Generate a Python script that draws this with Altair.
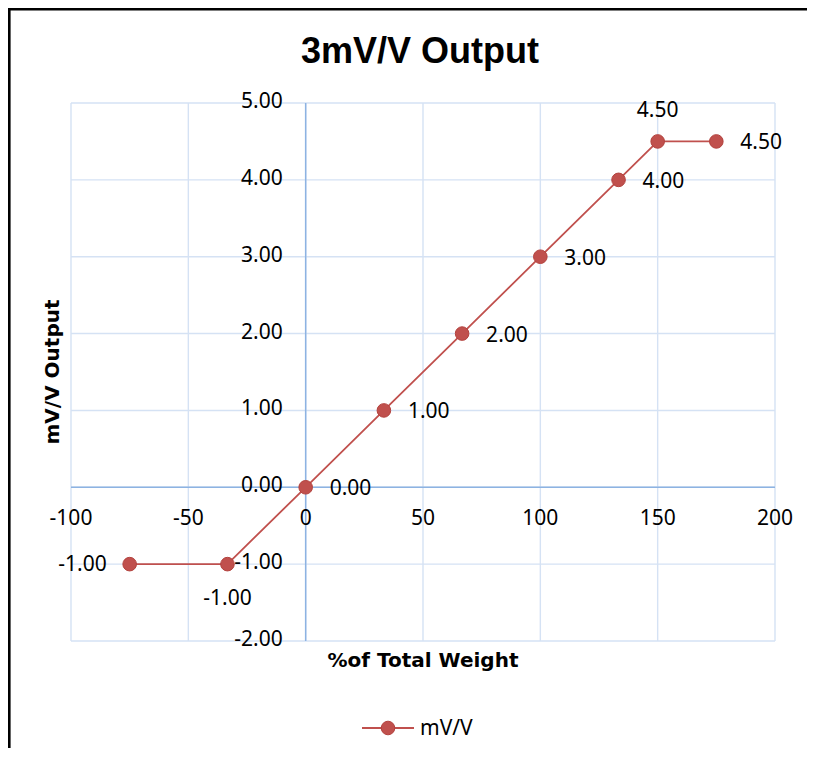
import altair as alt
import pandas as pd

# ---- data ----
pct_weight = [-75, -33.33, 0, 33.33, 66.67, 100, 133.33, 150, 175]
mv_per_v = [-1.0, -1.0, 0.0, 1.0, 2.0, 3.0, 4.0, 4.5, 4.5]
label_side = ["left", "below", "right", "right", "right", "right", "right", "above", "right"]
x_ticks = [-100, -50, 0, 50, 100, 150, 200]
y_ticks = [-2, -1, 0, 1, 2, 3, 4, 5]
series_name = "mV/V"
title_text = "3mV/V Output"
x_title = "%of Total Weight"
y_title = "mV/V Output"

# ---- styling ----
W, H = 704, 538
X_DOM = [-100, 200]
Y_DOM = [-2, 5]
RED = "#C0504D"
RED_EDGE = "#B3423E"
GRID = "#D5E2F4"
AXIS = "#8DB3E2"
LABEL_FONT = "Noto Sans"

df = pd.DataFrame({"x": pct_weight, "y": mv_per_v, "side": label_side})
df_xt = pd.DataFrame({"v": x_ticks})
df_yt = pd.DataFrame({"v": y_ticks})
one = pd.DataFrame({"k": [0]})

xs = alt.Scale(domain=X_DOM, nice=False, zero=False)
ys = alt.Scale(domain=Y_DOM, nice=False, zero=False)

grid_x = alt.Chart(df_xt).mark_rule(color=GRID, strokeWidth=1.4).encode(
    x=alt.X("v:Q", scale=xs, axis=None))
grid_y = alt.Chart(df_yt).mark_rule(color=GRID, strokeWidth=1.4).encode(
    y=alt.Y("v:Q", scale=ys, axis=None))

zero_df = pd.DataFrame({"v": [0]})
zero_x = alt.Chart(zero_df).mark_rule(color=AXIS, strokeWidth=1.5).encode(
    x=alt.X("v:Q", scale=xs, axis=None))
zero_y = alt.Chart(zero_df).mark_rule(color=AXIS, strokeWidth=1.5).encode(
    y=alt.Y("v:Q", scale=ys, axis=None))

# tick labels placed along the zero lines (axes cross at 0, Excel style)
x_labels = alt.Chart(df_xt).transform_calculate(
    zero="0", lab="replace(format(datum.v, 'd'), '\u2212', '-')"
).mark_text(font=LABEL_FONT, fontSize=21, color="#000000", align="center",
            baseline="middle", dy=32).encode(
    x=alt.X("v:Q", scale=xs, axis=None),
    y=alt.Y("zero:Q", scale=ys, axis=None),
    text=alt.Text("lab:N"),
)
y_labels = alt.Chart(df_yt).transform_calculate(
    zero="0", lab="replace(format(datum.v, '.2f'), '\u2212', '-')"
).mark_text(font=LABEL_FONT, fontSize=21, color="#000000", align="right",
            baseline="middle", dx=-23, dy=-1).encode(
    x=alt.X("zero:Q", scale=xs, axis=None),
    y=alt.Y("v:Q", scale=ys, axis=None),
    text=alt.Text("lab:N"),
)

line = alt.Chart(df).mark_line(color=RED, strokeWidth=1.8).encode(
    x=alt.X("x:Q", scale=xs, axis=None),
    y=alt.Y("y:Q", scale=ys, axis=None),
    order=alt.Order("x:Q"),
)
points = alt.Chart(df).mark_circle(size=185, color=RED, opacity=1, stroke=RED_EDGE,
                                   strokeWidth=1).encode(
    x=alt.X("x:Q", scale=xs, axis=None),
    y=alt.Y("y:Q", scale=ys, axis=None),
)

side_style = {
    "right": dict(dx=24, dy=2, align="left", baseline="middle"),
    "left": dict(dx=-23, dy=1, align="right", baseline="middle"),
    "below": dict(dx=0, dy=35, align="center", baseline="middle"),
    "above": dict(dx=0, dy=-30, align="center", baseline="middle"),
}
label_layers = []
for side, st in side_style.items():
    label_layers.append(
        alt.Chart(df).transform_filter(alt.datum.side == side).transform_calculate(
            lab="replace(format(datum.y, '.2f'), '\u2212', '-')"
        ).mark_text(font=LABEL_FONT, fontSize=21, color="#000000", **st).encode(
            x=alt.X("x:Q", scale=xs, axis=None),
            y=alt.Y("y:Q", scale=ys, axis=None),
            text=alt.Text("lab:N"),
        )
    )

title = alt.Chart(one).mark_text(font="Liberation Sans", fontWeight="bold", fontSize=36,
                                 align="center", baseline="alphabetic", color="#000000").encode(
    x=alt.value(349), y=alt.value(-39.7), text=alt.value(title_text))
xtitle = alt.Chart(one).mark_text(font="DejaVu Sans", fontWeight="bold", fontSize=20,
                                  align="center", baseline="alphabetic", color="#000000").encode(
    x=alt.value(352), y=alt.value(564.3), text=alt.value(x_title))
ytitle = alt.Chart(one).mark_text(font="DejaVu Sans", fontWeight="bold", fontSize=20, angle=270,
                                  align="center", baseline="alphabetic", color="#000000").encode(
    x=alt.value(-12.4), y=alt.value(269), text=alt.value(y_title))

leg_line = alt.Chart(one).mark_rule(color=RED, strokeWidth=1.8).encode(
    x=alt.value(291), x2=alt.value(343), y=alt.value(625))
leg_pt = alt.Chart(one).mark_circle(size=185, color=RED, opacity=1, stroke=RED_EDGE,
                                    strokeWidth=1).encode(x=alt.value(317), y=alt.value(625))
leg_txt = alt.Chart(one).mark_text(font=LABEL_FONT, fontSize=21, align="left",
                                   baseline="middle", color="#000000").encode(
    x=alt.value(349), y=alt.value(626), text=alt.value(series_name))

border = alt.Chart(one).mark_rect(fillOpacity=0, stroke="#000000", strokeWidth=2.6).encode(
    x=alt.value(-61.7), x2=alt.value(1000), y=alt.value(-93.7), y2=alt.value(1000))

chart = alt.layer(
    grid_x, grid_y, zero_x, zero_y, x_labels, y_labels, line, points, *label_layers,
    title, xtitle, ytitle, leg_line, leg_pt, leg_txt, border,
).properties(
    width=W, height=H,
    padding={"left": 63, "top": 95, "right": 32, "bottom": 107},
    autosize=alt.AutoSizeParams(type="none"),
    background="#FFFFFF",
).configure_view(strokeWidth=0)

chart.save("out.html", embed_options={"renderer": "svg", "actions": False})
